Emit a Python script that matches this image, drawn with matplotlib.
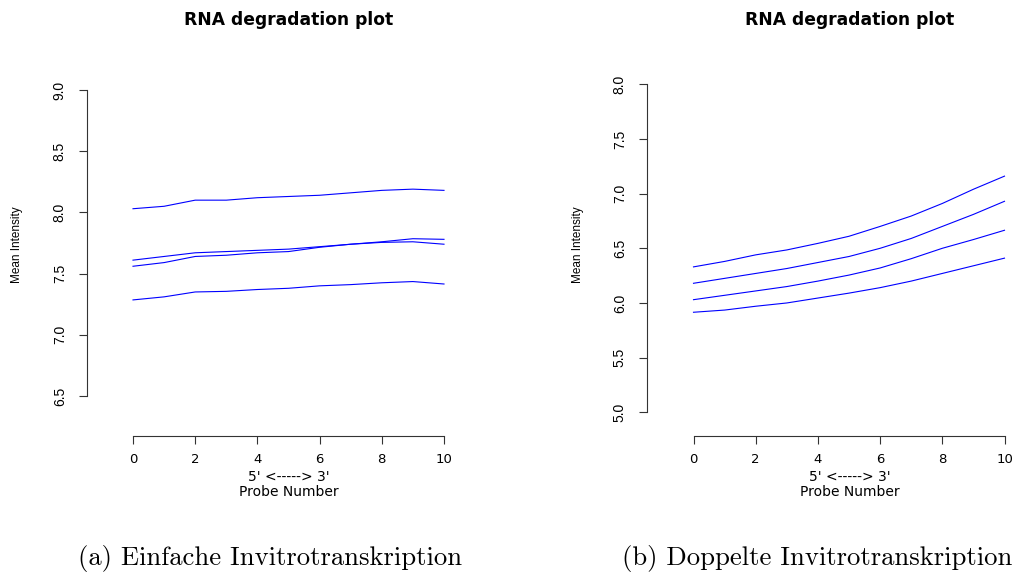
import matplotlib
matplotlib.use("Agg")
import matplotlib.pyplot as plt
import numpy as np

probe = list(range(11))

# (a) Einfache Invitrotranskription
a_series = [
    [8.03, 8.05, 8.10, 8.10, 8.12, 8.13, 8.14, 8.16, 8.18, 8.19, 8.18],
    [7.61, 7.64, 7.67, 7.68, 7.69, 7.70, 7.72, 7.74, 7.76, 7.785, 7.78],
    [7.56, 7.59, 7.64, 7.65, 7.67, 7.68, 7.715, 7.74, 7.755, 7.76, 7.74],
    [7.285, 7.31, 7.35, 7.355, 7.37, 7.38, 7.40, 7.41, 7.425, 7.435, 7.415],
]
# (b) Doppelte Invitrotranskription
b_series = [
    [6.33, 6.38, 6.44, 6.485, 6.545, 6.61, 6.70, 6.795, 6.91, 7.04, 7.16],
    [6.18, 6.225, 6.27, 6.315, 6.37, 6.425, 6.50, 6.59, 6.70, 6.81, 6.93],
    [6.03, 6.07, 6.11, 6.15, 6.20, 6.255, 6.32, 6.405, 6.50, 6.58, 6.665],
    [5.915, 5.935, 5.97, 6.00, 6.045, 6.09, 6.14, 6.20, 6.27, 6.34, 6.41],
]

a_yticks = [6.5, 7.0, 7.5, 8.0, 8.5, 9.0]
b_yticks = [5.0, 5.5, 6.0, 6.5, 7.0, 7.5, 8.0]
xticks = [0, 2, 4, 6, 8, 10]

title = "RNA degradation plot"
xlab1 = "5' <-----> 3'"
xlab2 = "Probe Number"
ylab = "Mean Intensity"
caps = ["(a) Einfache Invitrotranskription", "(b) Doppelte Invitrotranskription"]

W, H = 1015, 572
fig = plt.figure(figsize=(W / 100, H / 100), dpi=100)
sans_v = "Liberation Sans"   # rotated texts
sans_h = "DejaVu Sans"       # horizontal texts (wider, as in the reference)


def make_ax(left_px, right_px, bottom_px, top_px, xlim, ylim):
    ax = fig.add_axes([left_px / W, 1 - bottom_px / H,
                       (right_px - left_px) / W, (bottom_px - top_px) / H])
    ax.set_xlim(*xlim)
    ax.set_ylim(*ylim)
    ax.patch.set_alpha(0)
    return ax


def style(ax, series, yticks):
    for s in series:
        ax.plot(probe, s, color="#0000FF", lw=0.8)
    for sp in ["top", "right"]:
        ax.spines[sp].set_visible(False)
    ax.spines["left"].set_bounds(yticks[0], yticks[-1])
    ax.spines["bottom"].set_bounds(xticks[0], xticks[-1])
    for sp in ["left", "bottom"]:
        ax.spines[sp].set_linewidth(0.8)
        ax.spines[sp].set_color("#333333")
    ax.set_xticks(xticks)
    ax.set_yticks(yticks)
    ax.set_yticklabels([f"{v:.1f}" for v in yticks], rotation=90, va="center")
    ax.tick_params(axis="both", direction="out", length=5.5, width=0.8,
                   color="#333333")
    ax.tick_params(axis="x", pad=7, labelsize=9.5)
    ax.tick_params(axis="y", pad=9, labelsize=10)
    for lbl in ax.get_xticklabels():
        lbl.set_family(sans_h)
    for lbl in ax.get_yticklabels():
        lbl.set_family(sans_v)


# Left panel: x 0->133px, 10->444px ; y 6.5->396px, 9.0->90px
ax1 = make_ax(87, 456, 436, 78,
              ((87 - 133) / 31.1, (456 - 133) / 31.1),
              (6.5 - (436 - 396) / 122.4, 9.0 + (90 - 78) / 122.4))
style(ax1, a_series, a_yticks)

# Right panel: x 0->693.5px, 10->1004.5px ; y 5.0->412.3px, 8.0->84.3px
ax2 = make_ax(647, 1015, 436, 70,
              ((647 - 693.5) / 31.1, (1015 - 693.5) / 31.1),
              (5.0 - (436 - 412.3) / 109.3, 8.0 + (84.3 - 70) / 109.3))
style(ax2, b_series, b_yticks)

for cx, ylx, yly in [(289, 17, 245), (850, 578, 245)]:
    fig.text(cx / W, 1 - 20 / H, title, ha="center", va="center",
             fontsize=12.3, fontweight="bold", family=sans_h)
    fig.text(cx / W, 1 - 477 / H, xlab1, ha="center", va="center",
             fontsize=10, family=sans_h)
    fig.text(cx / W, 1 - 492 / H, xlab2, ha="center", va="center",
             fontsize=10, family=sans_h)
    fig.text(ylx / W, 1 - yly / H, ylab, ha="center", va="center",
             rotation=90, fontsize=8.5, family=sans_v)

fig.text(270 / W, 1 - 559 / H, caps[0], ha="center", va="center",
         fontsize=19.2, family="cmr10")
fig.text(1012 / W, 1 - 559 / H, caps[1], ha="right", va="center",
         fontsize=19.2, family="cmr10")

fig.savefig("out.png", dpi=100)
